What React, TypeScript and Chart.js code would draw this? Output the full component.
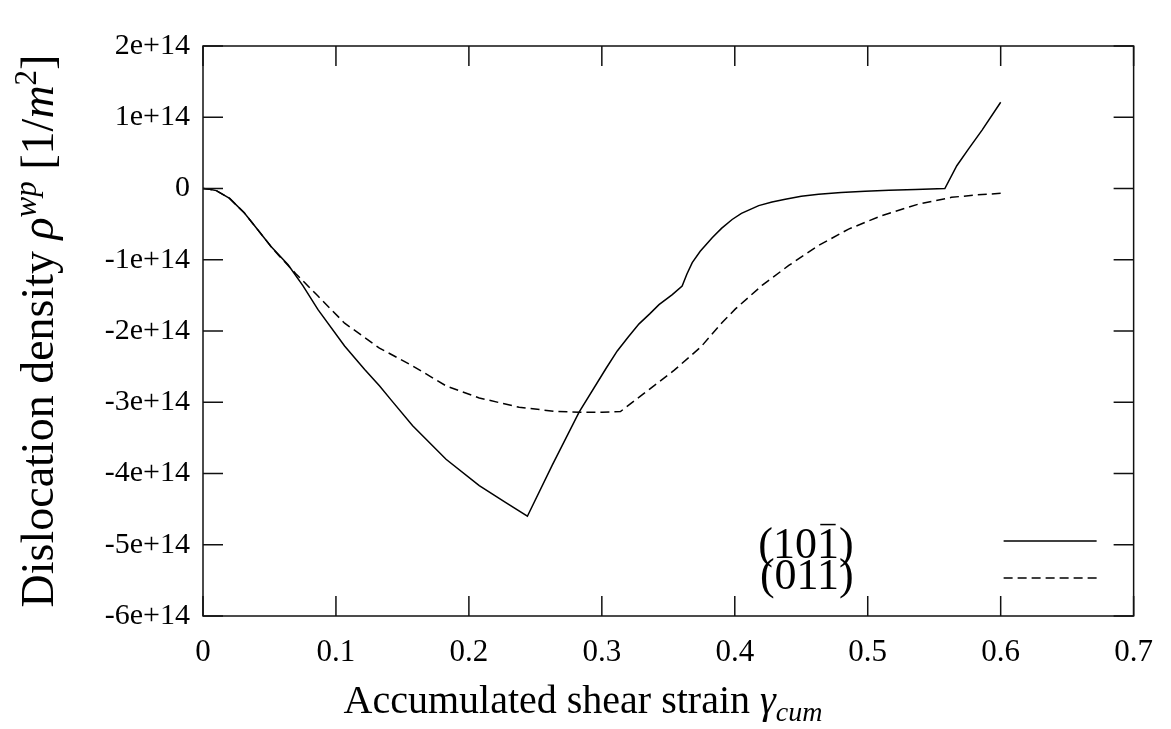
import React, { useEffect, useRef } from "react";
import { Chart, registerables } from "chart.js";

Chart.register(...registerables);

// Accumulated shear strain values and dislocation density (1/m^2)
const strain101 = [0, 0.005, 0.01, 0.02, 0.031, 0.04, 0.051, 0.064, 0.075, 0.0865, 0.1065, 0.1216, 0.1327, 0.1416, 0.1577, 0.1828, 0.2078, 0.2278, 0.244, 0.2628, 0.2829, 0.303, 0.3116, 0.32, 0.328, 0.336, 0.343, 0.353, 0.3604, 0.364, 0.368, 0.374, 0.383, 0.39, 0.398, 0.405, 0.418, 0.428, 0.438, 0.45, 0.463, 0.48, 0.498, 0.516, 0.536, 0.558, 0.567, 0.576, 0.586, 0.6];
const rho101 = [0, -0.01e14, -0.03e14, -0.14e14, -0.34e14, -0.55e14, -0.81e14, -1.07e14, -1.36e14, -1.7e14, -2.21e14, -2.54e14, -2.77e14, -2.97e14, -3.33e14, -3.8e14, -4.17e14, -4.41e14, -4.6e14, -3.88e14, -3.14e14, -2.53e14, -2.28e14, -2.08e14, -1.9e14, -1.76e14, -1.63e14, -1.49e14, -1.37e14, -1.2e14, -1.04e14, -0.88e14, -0.69e14, -0.56e14, -0.435e14, -0.35e14, -0.24e14, -0.19e14, -0.15e14, -0.11e14, -0.08e14, -0.055e14, -0.04e14, -0.025e14, -0.015e14, 0, 0.32e14, 0.56e14, 0.82e14, 1.21e14];

const strain011 = [0, 0.005, 0.01, 0.02, 0.031, 0.04, 0.051, 0.057, 0.07, 0.0865, 0.1065, 0.1327, 0.1577, 0.1828, 0.2078, 0.2378, 0.2654, 0.2829, 0.3, 0.314, 0.3315, 0.3545, 0.3747, 0.3905, 0.4005, 0.4205, 0.4406, 0.463, 0.4856, 0.5106, 0.538, 0.563, 0.582, 0.6];
const rho011 = [0, -0.01e14, -0.03e14, -0.14e14, -0.34e14, -0.55e14, -0.81e14, -0.94e14, -1.2e14, -1.51e14, -1.89e14, -2.24e14, -2.49e14, -2.77e14, -2.94e14, -3.07e14, -3.13e14, -3.14e14, -3.14e14, -3.13e14, -2.88e14, -2.55e14, -2.22e14, -1.88e14, -1.69e14, -1.36e14, -1.08e14, -0.8e14, -0.57e14, -0.38e14, -0.22e14, -0.124e14, -0.09e14, -0.067e14];

const xTicks = [0, 0.1, 0.2, 0.3, 0.4, 0.5, 0.6, 0.7];
const yTicks = [-6e14, -5e14, -4e14, -3e14, -2e14, -1e14, 0, 1e14, 2e14];

const SERIF = "'Liberation Serif', 'DejaVu Serif', serif";

type Seg = { t: string; italic?: boolean; size: number; dy?: number; overline?: boolean };

function segWidth(ctx: CanvasRenderingContext2D, s: Seg) {
  ctx.font = `${s.italic ? "italic " : ""}${s.size}px ${SERIF}`;
  return ctx.measureText(s.t).width;
}

function drawSegs(ctx: CanvasRenderingContext2D, segs: Seg[], x: number, y: number, align: "center" | "right" | "left") {
  const total = segs.reduce((a, s) => a + segWidth(ctx, s), 0);
  let cx = align === "center" ? x - total / 2 : align === "right" ? x - total : x;
  ctx.textAlign = "left";
  ctx.textBaseline = "alphabetic";
  ctx.fillStyle = "#000";
  for (const s of segs) {
    const w = segWidth(ctx, s);
    ctx.fillText(s.t, cx, y + (s.dy || 0));
    if (s.overline) {
      ctx.save();
      ctx.strokeStyle = "#000";
      ctx.lineWidth = 1.5;
      ctx.beginPath();
      const oy = y + (s.dy || 0) - s.size * 0.76;
      ctx.moveTo(cx + w * 0.15, oy);
      ctx.lineTo(cx + w * 0.85, oy);
      ctx.stroke();
      ctx.restore();
    }
    cx += w;
  }
}

const framePlugin = {
  id: "gnuplotFrame",
  afterDatasetsDraw(chart: any) {
    const { ctx, chartArea: a, scales } = chart;
    const xs = scales.x;
    const ys = scales.y;
    ctx.save();
    ctx.strokeStyle = "#111";
    ctx.lineWidth = 1.5;
    ctx.strokeRect(a.left, a.top, a.right - a.left, a.bottom - a.top);
    const L = 20;
    ctx.beginPath();
    for (const v of yTicks) {
      const py = ys.getPixelForValue(v);
      ctx.moveTo(a.left, py);
      ctx.lineTo(a.left + L, py);
      ctx.moveTo(a.right, py);
      ctx.lineTo(a.right - L, py);
    }
    for (const v of xTicks) {
      const px = xs.getPixelForValue(v);
      ctx.moveTo(px, a.bottom);
      ctx.lineTo(px, a.bottom - L);
      ctx.moveTo(px, a.top);
      ctx.lineTo(px, a.top + L);
    }
    ctx.stroke();

    // legend
    const lx1 = a.right - 130;
    const lx2 = a.right - 37;
    const ly1 = a.bottom - 75;
    const ly2 = a.bottom - 38;
    ctx.strokeStyle = "#000";
    ctx.beginPath();
    ctx.moveTo(lx1, ly1);
    ctx.lineTo(lx2, ly1);
    ctx.stroke();
    ctx.setLineDash([9, 5]);
    ctx.beginPath();
    ctx.moveTo(lx1, ly2);
    ctx.lineTo(lx2, ly2);
    ctx.stroke();
    ctx.setLineDash([]);
    const tx = a.right - 280;
    drawSegs(ctx, [
      { t: "(10", size: 44 },
      { t: "1", size: 44, overline: true },
      { t: ")", size: 44 },
    ], tx, a.bottom - 58, "right");
    drawSegs(ctx, [{ t: "(011)", size: 44 }], tx, a.bottom - 27, "right");

    // axis titles
    drawSegs(ctx, [
      { t: "Accumulated shear strain ", size: 40 },
      { t: "γ", size: 40, italic: true },
      { t: "cum", size: 28, italic: true, dy: 8 },
    ], 583, 713, "center");

    ctx.save();
    ctx.translate(53, 331);
    ctx.rotate(-Math.PI / 2);
    drawSegs(ctx, [
      { t: "Dislocation density ", size: 46 },
      { t: "ρ", size: 46, italic: true },
      { t: "wp", size: 31, italic: true, dy: -17 },
      { t: " [1/", size: 46 },
      { t: "m", size: 46, italic: true },
      { t: "2", size: 31, dy: -17 },
      { t: "]", size: 46 },
    ], 0, 0, "center");
    ctx.restore();
    ctx.restore();
  },
};

export default function App() {
  const ref = useRef<HTMLCanvasElement | null>(null);
  useEffect(() => {
    document.body.style.margin = "0";
    document.body.style.overflow = "hidden";
    const canvas = ref.current!;
    const chart = new Chart(canvas, {
      type: "line",
      data: {
        datasets: [
          {
            label: "(101)",
            data: strain101.map((x, i) => ({ x, y: rho101[i] })),
            borderColor: "#000",
            borderWidth: 1.5,
            pointRadius: 0,
            tension: 0,
            fill: false,
          },
          {
            label: "(011)",
            data: strain011.map((x, i) => ({ x, y: rho011[i] })),
            borderColor: "#000",
            borderWidth: 1.5,
            borderDash: [9, 5],
            pointRadius: 0,
            tension: 0,
            fill: false,
          },
        ],
      },
      plugins: [framePlugin],
      options: {
        animation: false,
        responsive: false,
        devicePixelRatio: 1,
        layout: { padding: { left: 0, right: 36, top: 46, bottom: 0 } },
        plugins: { legend: { display: false }, tooltip: { enabled: false } },
        scales: {
          x: {
            type: "linear",
            min: 0,
            max: 0.7,
            afterBuildTicks: (s: any) => {
              s.ticks = xTicks.map((v) => ({ value: v }));
            },
            afterFit: (s: any) => {
              s.height = 113;
            },
            grid: { display: false, drawTicks: false, tickLength: 0 },
            border: { display: false },
            ticks: {
              color: "#000",
              padding: 18,
              font: { family: SERIF, size: 31 },
              callback: (v: any) => (Number(v) === 0 ? "0" : Number(v).toFixed(1)),
            },
          },
          y: {
            type: "linear",
            min: -6e14,
            max: 2e14,
            afterBuildTicks: (s: any) => {
              s.ticks = yTicks.map((v) => ({ value: v }));
            },
            afterFit: (s: any) => {
              s.width = 203;
            },
            grid: { display: false, drawTicks: false, tickLength: 0 },
            border: { display: false },
            ticks: {
              color: "#000",
              padding: 13,
              font: { family: SERIF, size: 30 },
              callback: (v: any) => {
                const n = Math.round(Number(v) / 1e14);
                return n === 0 ? "0" : `${n}e+14`;
              },
            },
          },
        },
      },
    });
    return () => chart.destroy();
  }, []);
  return (
    <div style={{ width: 1171, height: 729, background: "#fff" }}>
      <canvas ref={ref} width={1171} height={729} style={{ display: "block" }} />
    </div>
  );
}
